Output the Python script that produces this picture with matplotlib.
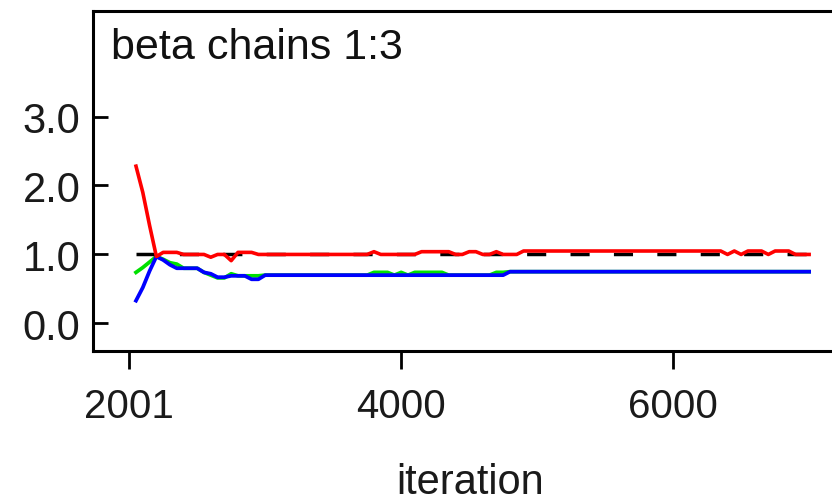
import numpy as np
import matplotlib
matplotlib.use("Agg")
import matplotlib.pyplot as plt
from matplotlib import font_manager

# BGR convergence diagnostic for beta, chains 1:3
iterations = np.arange(2050, 7001, 50)

ratio = [2.28, 1.90, 1.42, 0.97, 1.03, 1.03, 1.03, 1.00, 1.00, 1.00,
         1.00, 0.96, 1.00, 1.00, 0.91, 1.03, 1.03, 1.03, 1.00, 1.00,
         1.00, 1.00, 1.00, 1.00, 1.00, 1.00, 1.00, 1.00, 1.00, 1.00,
         1.00, 1.00, 1.00, 1.00, 1.00, 1.04, 1.00, 1.00, 1.00, 1.00,
         1.00, 1.00, 1.04, 1.04, 1.04, 1.04, 1.04, 1.00, 1.00, 1.04,
         1.04, 1.00, 1.00, 1.04, 1.00, 1.00, 1.00, 1.05, 1.05, 1.05,
         1.05, 1.05, 1.05, 1.05, 1.05, 1.05, 1.05, 1.05, 1.05, 1.05,
         1.05, 1.05, 1.05, 1.05, 1.05, 1.05, 1.05, 1.05, 1.05, 1.05,
         1.05, 1.05, 1.05, 1.05, 1.05, 1.05, 1.05, 1.00, 1.05, 1.00,
         1.05, 1.05, 1.05, 1.00, 1.05, 1.05, 1.05, 1.00, 1.00, 1.00]

within = [0.33, 0.52, 0.76, 0.97, 0.92, 0.85, 0.80, 0.80, 0.80, 0.80,
          0.74, 0.72, 0.67, 0.67, 0.69, 0.69, 0.69, 0.64, 0.64, 0.70,
          0.70, 0.70, 0.70, 0.70, 0.70, 0.70, 0.70, 0.70, 0.70, 0.70,
          0.70, 0.70, 0.70, 0.70, 0.70, 0.70, 0.70, 0.70, 0.70, 0.70,
          0.70, 0.70, 0.70, 0.70, 0.70, 0.70, 0.70, 0.70, 0.70, 0.70,
          0.70, 0.70, 0.70, 0.70, 0.70, 0.75, 0.75, 0.75, 0.75, 0.75,
          0.75, 0.75, 0.75, 0.75, 0.75, 0.75, 0.75, 0.75, 0.75, 0.75,
          0.75, 0.75, 0.75, 0.75, 0.75, 0.75, 0.75, 0.75, 0.75, 0.75,
          0.75, 0.75, 0.75, 0.75, 0.75, 0.75, 0.75, 0.75, 0.75, 0.75,
          0.75, 0.75, 0.75, 0.75, 0.75, 0.75, 0.75, 0.75, 0.75, 0.75]

pooled = [0.74, 0.81, 0.89, 0.97, 0.93, 0.88, 0.86, 0.80, 0.80, 0.80,
          0.74, 0.70, 0.66, 0.66, 0.72, 0.69, 0.69, 0.69, 0.69, 0.70,
          0.70, 0.70, 0.70, 0.70, 0.70, 0.70, 0.70, 0.70, 0.70, 0.70,
          0.70, 0.70, 0.70, 0.70, 0.70, 0.74, 0.74, 0.74, 0.70, 0.74,
          0.70, 0.74, 0.74, 0.74, 0.74, 0.74, 0.70, 0.70, 0.70, 0.70,
          0.70, 0.70, 0.70, 0.74, 0.74, 0.75, 0.75, 0.75, 0.75, 0.75,
          0.75, 0.75, 0.75, 0.75, 0.75, 0.75, 0.75, 0.75, 0.75, 0.75,
          0.75, 0.75, 0.75, 0.75, 0.75, 0.75, 0.75, 0.75, 0.75, 0.75,
          0.75, 0.75, 0.75, 0.75, 0.75, 0.75, 0.75, 0.75, 0.75, 0.75,
          0.75, 0.75, 0.75, 0.75, 0.75, 0.75, 0.75, 0.75, 0.75, 0.75]

xticks = [2001, 4000, 6000]
yticks = [0.0, 1.0, 2.0, 3.0]

names = {f.name for f in font_manager.fontManager.ttflist}
plt.rcParams["font.family"] = "Liberation Sans" if "Liberation Sans" in names else "DejaVu Sans"

fig = plt.figure(figsize=(8.32, 5.02), dpi=100)
ax = fig.add_axes([0.1118, 0.2988, 0.8978, 0.6773])

ax.plot(iterations, pooled, color="#00e000", lw=2.7, zorder=2)
ax.plot(iterations, within, color="#0000ff", lw=2.7, zorder=3)
ax.plot([iterations[0], iterations[-1]], [1.0, 1.0], color="black", lw=2.5,
        dashes=(5.5, 7.0), zorder=4)
ax.plot(iterations, ratio, color="#ff0000", lw=2.6, zorder=5)

ax.set_xlim(1734, 7227)
ax.set_ylim(-0.40, 4.53)
ax.set_xticks(xticks)
ax.set_xticklabels([str(t) for t in xticks], fontsize=29, color="#1a1a1a")
ax.set_yticks(yticks)
ax.set_yticklabels(["%.1f" % t for t in yticks], fontsize=30, color="#1a1a1a")
ax.tick_params(axis="y", direction="in", length=11, width=2, pad=9)
ax.tick_params(axis="x", direction="out", length=13, width=2, pad=13)
for s in ax.spines.values():
    s.set_linewidth(2.2)
ax.spines["right"].set_visible(False)

ax.text(0.024, 0.862, "beta chains 1:3", transform=ax.transAxes,
        fontsize=31, va="baseline", ha="left", color="#111111")
ax.set_xlabel("iteration", fontsize=30, color="#1a1a1a")
ax.xaxis.set_label_coords(0.505, -0.325)

fig.savefig("out.png", dpi=100)
